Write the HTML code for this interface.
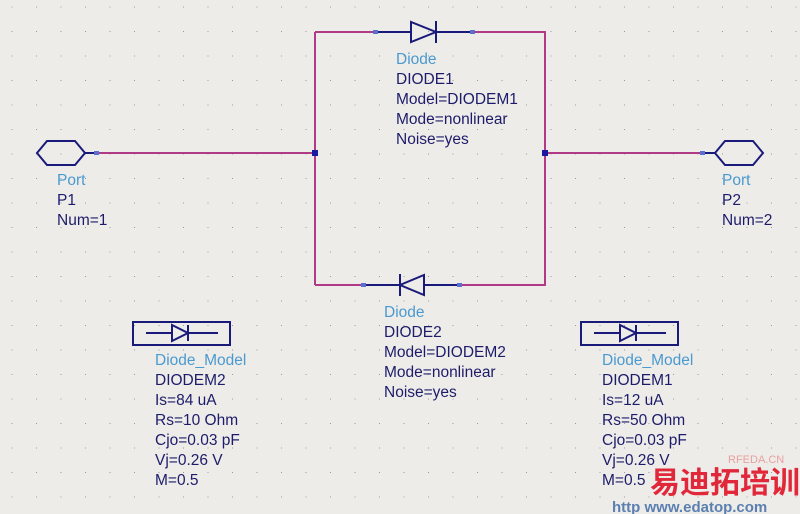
<!DOCTYPE html>
<html><head><meta charset="utf-8"><style>
body{margin:0;width:800px;height:514px;overflow:hidden;background:#eeece9;font-family:"Liberation Sans",sans-serif}
svg{position:absolute;left:0;top:0}
</style></head><body>
<svg width="800" height="514" viewBox="0 0 800 514" xmlns="http://www.w3.org/2000/svg">
<defs><pattern id="g" x="0" y="0" width="24.5" height="24.5" patternUnits="userSpaceOnUse"><rect x="11.5" y="6.5" width="1" height="1" fill="#9a9a9a"/></pattern></defs>
<rect width="800" height="514" fill="#eeece9"/>
<rect width="800" height="514" fill="url(#g)"/>
<g stroke="#b03a85" stroke-width="2" fill="none">
<path d="M97 153H315M315 32V285M315 32H376M472 32H545V285H460M363 285H315M545 153H703"/>
</g>
<g stroke="#1a1a7a" stroke-width="2" fill="none">
<path d="M376 32H411M436 32H472M411 22V42L436 32ZM436 21V43"/>
<path d="M363 285H400M424 285H460M424 275V295L400 285ZM400 274V296"/>
<path d="M37 153L47 141H75L85 153L75 165H47ZM85 153H97"/>
<path d="M715 153L725 141H753L763 153L753 165H725ZM703 153H715"/>
<rect x="133" y="322" width="97" height="23"/>
<path d="M146 333H172M188 333H218M172 325V341L188 333ZM188 325V341"/>
<rect x="581" y="322" width="97" height="23"/>
<path d="M594 333H620M636 333H666M620 325V341L636 333ZM636 325V341"/>
</g>
<g fill="#5a6fd0"><rect x="94" y="151" width="5" height="4"/><rect x="700" y="151" width="5" height="4"/>
<rect x="373" y="30" width="5" height="4"/><rect x="470" y="30" width="5" height="4"/>
<rect x="361" y="283" width="5" height="4"/><rect x="457" y="283" width="5" height="4"/></g>
<g fill="#1a1aa0"><rect x="312" y="150" width="6" height="6"/><rect x="542" y="150" width="6" height="6"/></g>
<g font-family="Liberation Sans, sans-serif" font-size="15.5" fill="#1c1c6a">
<text x="57" y="185" fill="#4a9ad0">Port</text><text x="57" y="205">P1</text><text x="57" y="225">Num=1</text>
<text x="722" y="185" fill="#4a9ad0">Port</text><text x="722" y="205">P2</text><text x="722" y="225">Num=2</text>
<text x="396" y="64" fill="#4a9ad0">Diode</text><text x="396" y="84">DIODE1</text><text x="396" y="104">Model=DIODEM1</text><text x="396" y="124">Mode=nonlinear</text><text x="396" y="144">Noise=yes</text>
<text x="384" y="317" fill="#4a9ad0">Diode</text><text x="384" y="337">DIODE2</text><text x="384" y="357">Model=DIODEM2</text><text x="384" y="377">Mode=nonlinear</text><text x="384" y="397">Noise=yes</text>
<text x="155" y="365" fill="#4a9ad0">Diode_Model</text><text x="155" y="385">DIODEM2</text><text x="155" y="405">Is=84 uA</text><text x="155" y="425">Rs=10 Ohm</text><text x="155" y="445">Cjo=0.03 pF</text><text x="155" y="465">Vj=0.26 V</text><text x="155" y="485">M=0.5</text>
<text x="602" y="365" fill="#4a9ad0">Diode_Model</text><text x="602" y="385">DIODEM1</text><text x="602" y="405">Is=12 uA</text><text x="602" y="425">Rs=50 Ohm</text><text x="602" y="445">Cjo=0.03 pF</text><text x="602" y="465">Vj=0.26 V</text><text x="602" y="485">M=0.5</text>
</g>
<text x="728" y="463" font-size="11" fill="#e8a0a0" font-family="Liberation Sans, sans-serif">RFEDA.CN</text>
<text x="650" y="493" font-size="30" font-weight="bold" fill="#e0283a" font-family="Liberation Sans, Noto Sans CJK SC, sans-serif">易迪拓培训</text>
<text x="612" y="512" font-size="15" font-weight="bold" fill="#5a7fb0" font-family="Liberation Sans, sans-serif">http www.edatop.com</text>
</svg>
</body></html>
